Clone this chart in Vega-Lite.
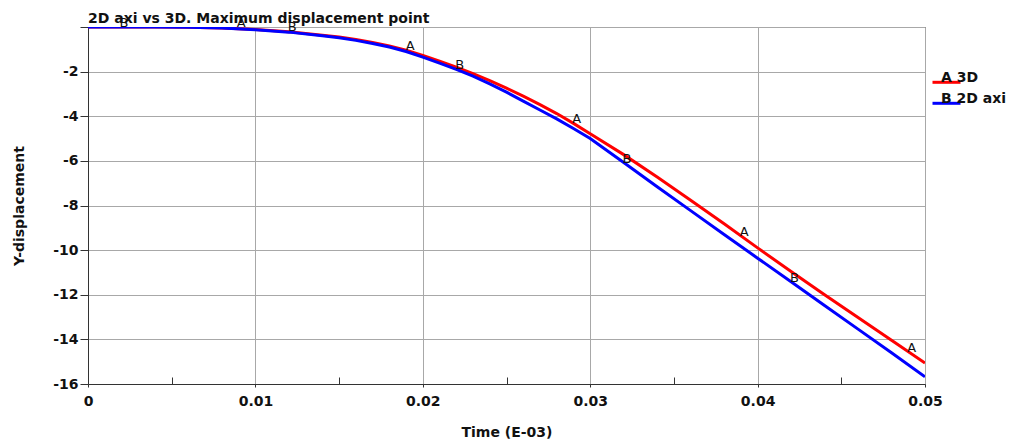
{
  "$schema": "https://vega.github.io/schema/vega-lite/v6.json",
  "width": 837,
  "height": 357,
  "autosize": {"type": "none"},
  "padding": {"left": 88, "top": 27, "right": 91, "bottom": 57},
  "background": "white",
  "config": {
    "view": {"stroke": "#222", "strokeWidth": 1},
    "font": "DejaVu Sans"
  },
  "title": {
    "text": "2D axi vs 3D. Maximum displacement point",
    "anchor": "start",
    "frame": "group",
    "font": "DejaVu Sans",
    "fontSize": 14,
    "fontWeight": "bold",
    "color": "#111",
    "baseline": "alphabetic",
    "offset": 5,
    "dy": 25
  },
  "datasets": {
    "curves": [
      {"t": 0.000, "v": 0, "series": "3D"},
      {"t": 0.004, "v": 0, "series": "3D"},
      {"t": 0.006, "v": -0.01, "series": "3D"},
      {"t": 0.008, "v": -0.04, "series": "3D"},
      {"t": 0.010, "v": -0.11, "series": "3D"},
      {"t": 0.012, "v": -0.21, "series": "3D"},
      {"t": 0.014, "v": -0.37, "series": "3D"},
      {"t": 0.015, "v": -0.45, "series": "3D"},
      {"t": 0.016, "v": -0.56, "series": "3D"},
      {"t": 0.017, "v": -0.69, "series": "3D"},
      {"t": 0.018, "v": -0.85, "series": "3D"},
      {"t": 0.019, "v": -1.04, "series": "3D"},
      {"t": 0.020, "v": -1.27, "series": "3D"},
      {"t": 0.021, "v": -1.53, "series": "3D"},
      {"t": 0.022, "v": -1.80, "series": "3D"},
      {"t": 0.023, "v": -2.09, "series": "3D"},
      {"t": 0.024, "v": -2.40, "series": "3D"},
      {"t": 0.025, "v": -2.74, "series": "3D"},
      {"t": 0.026, "v": -3.10, "series": "3D"},
      {"t": 0.027, "v": -3.48, "series": "3D"},
      {"t": 0.028, "v": -3.88, "series": "3D"},
      {"t": 0.029, "v": -4.32, "series": "3D"},
      {"t": 0.030, "v": -4.78, "series": "3D"},
      {"t": 0.032, "v": -5.72, "series": "3D"},
      {"t": 0.034, "v": -6.72, "series": "3D"},
      {"t": 0.036, "v": -7.76, "series": "3D"},
      {"t": 0.038, "v": -8.82, "series": "3D"},
      {"t": 0.040, "v": -9.90, "series": "3D"},
      {"t": 0.042, "v": -10.96, "series": "3D"},
      {"t": 0.044, "v": -12.00, "series": "3D"},
      {"t": 0.046, "v": -13.02, "series": "3D"},
      {"t": 0.048, "v": -14.04, "series": "3D"},
      {"t": 0.050, "v": -15.06, "series": "3D"},
      {"t": 0.000, "v": 0, "series": "2D axi"},
      {"t": 0.004, "v": 0, "series": "2D axi"},
      {"t": 0.006, "v": -0.01, "series": "2D axi"},
      {"t": 0.008, "v": -0.04, "series": "2D axi"},
      {"t": 0.010, "v": -0.12, "series": "2D axi"},
      {"t": 0.012, "v": -0.23, "series": "2D axi"},
      {"t": 0.014, "v": -0.39, "series": "2D axi"},
      {"t": 0.015, "v": -0.48, "series": "2D axi"},
      {"t": 0.016, "v": -0.60, "series": "2D axi"},
      {"t": 0.017, "v": -0.74, "series": "2D axi"},
      {"t": 0.018, "v": -0.90, "series": "2D axi"},
      {"t": 0.019, "v": -1.10, "series": "2D axi"},
      {"t": 0.020, "v": -1.35, "series": "2D axi"},
      {"t": 0.021, "v": -1.62, "series": "2D axi"},
      {"t": 0.022, "v": -1.90, "series": "2D axi"},
      {"t": 0.023, "v": -2.20, "series": "2D axi"},
      {"t": 0.024, "v": -2.55, "series": "2D axi"},
      {"t": 0.025, "v": -2.92, "series": "2D axi"},
      {"t": 0.026, "v": -3.32, "series": "2D axi"},
      {"t": 0.027, "v": -3.72, "series": "2D axi"},
      {"t": 0.028, "v": -4.12, "series": "2D axi"},
      {"t": 0.029, "v": -4.55, "series": "2D axi"},
      {"t": 0.030, "v": -5.00, "series": "2D axi"},
      {"t": 0.032, "v": -6.07, "series": "2D axi"},
      {"t": 0.034, "v": -7.16, "series": "2D axi"},
      {"t": 0.036, "v": -8.23, "series": "2D axi"},
      {"t": 0.038, "v": -9.30, "series": "2D axi"},
      {"t": 0.040, "v": -10.36, "series": "2D axi"},
      {"t": 0.042, "v": -11.42, "series": "2D axi"},
      {"t": 0.044, "v": -12.48, "series": "2D axi"},
      {"t": 0.046, "v": -13.54, "series": "2D axi"},
      {"t": 0.048, "v": -14.60, "series": "2D axi"},
      {"t": 0.050, "v": -15.68, "series": "2D axi"}
    ],
    "markers": [
      {"t": 0.00915, "v": -0.07, "label": "A"},
      {"t": 0.01925, "v": -1.10, "label": "A"},
      {"t": 0.0292, "v": -4.41, "label": "A"},
      {"t": 0.0392, "v": -9.46, "label": "A"},
      {"t": 0.0492, "v": -14.65, "label": "A"},
      {"t": 0.00215, "v": -0.1, "label": "B"},
      {"t": 0.0122, "v": -0.25, "label": "B"},
      {"t": 0.0222, "v": -1.96, "label": "B"},
      {"t": 0.0322, "v": -6.18, "label": "B"},
      {"t": 0.0422, "v": -11.53, "label": "B"}
    ]
  },
  "layer": [
    {
      "data": {"name": "curves"},
      "mark": {"type": "line", "strokeWidth": 3, "clip": true},
      "encoding": {
        "x": {
          "field": "t",
          "type": "quantitative",
          "scale": {"domain": [0, 0.05], "nice": false, "zero": false},
          "axis": {
            "values": [0, 0.005, 0.01, 0.015, 0.02, 0.025, 0.03, 0.035, 0.04, 0.045, 0.05],
            "format": "~g",
            "labelExpr": "round(datum.value*1000) % 10 == 0 ? datum.label : ''",
            "title": "Time (E-03)",
            "titleFont": "DejaVu Sans",
            "titleFontSize": 14,
            "titleFontWeight": "bold",
            "titleColor": "#111",
            "titlePadding": 17,
            "labelFont": "DejaVu Sans",
            "labelFontSize": 14,
            "labelFontWeight": "bold",
            "labelColor": "#111",
            "labelPadding": 7,
            "labelFlush": false,
            "labelOverlap": false,
            "domainColor": "#333",
            "tickColor": "#333",
            "tickSize": {"condition": {"test": "round(datum.value*1000) % 10 == 0", "value": 3}, "value": -7},
            "gridColor": "#a8a8a8",
            "gridOpacity": {"condition": {"test": "round(datum.value*1000) % 10 == 0", "value": 1}, "value": 0}
          }
        },
        "y": {
          "field": "v",
          "type": "quantitative",
          "scale": {"domain": [-16, 0], "nice": false, "zero": false},
          "axis": {
            "values": [-16, -15, -14, -13, -12, -11, -10, -9, -8, -7, -6, -5, -4, -3, -2, -1, 0],
            "labelExpr": "(datum.value % 2 == 0 && datum.value != 0) ? ('' + datum.value) : ''",
            "title": "Y-displacement",
            "titleFont": "DejaVu Sans",
            "titleFontSize": 14,
            "titleFontWeight": "bold",
            "titleColor": "#111",
            "titlePadding": 26,
            "labelFont": "DejaVu Sans",
            "labelFontSize": 14,
            "labelFontWeight": "bold",
            "labelColor": "#111",
            "labelPadding": 2,
            "labelFlush": false,
            "labelOverlap": false,
            "domainColor": "#333",
            "tickColor": "#333",
            "tickSize": {"condition": {"test": "datum.value % 2 == 0", "value": 8}, "value": -8},
            "gridColor": "#a8a8a8",
            "gridOpacity": {"condition": {"test": "datum.value % 2 == 0", "value": 1}, "value": 0}
          }
        },
        "color": {
          "field": "series",
          "type": "nominal",
          "scale": {"domain": ["3D", "2D axi"], "range": ["#ff0000", "#0000ff"]},
          "legend": {
            "title": null,
            "orient": "none",
            "legendX": 849,
            "legendY": 41,
            "labelExpr": "datum.label == '3D' ? 'A 3D' : 'B 2D axi'",
            "labelFont": "DejaVu Sans",
            "labelFontSize": 14,
            "labelFontWeight": "bold",
            "labelColor": "#111",
            "symbolType": "M-1.75,0.6L1.75,0.6",
            "symbolSize": 256,
            "symbolStrokeWidth": 3,
            "labelOffset": -15,
            "rowPadding": -3
          }
        }
      }
    },
    {
      "data": {"name": "markers"},
      "mark": {"type": "text", "font": "DejaVu Sans", "fontSize": 13, "color": "#111", "baseline": "alphabetic", "dy": -2},
      "encoding": {
        "x": {"field": "t", "type": "quantitative"},
        "y": {"field": "v", "type": "quantitative"},
        "text": {"field": "label"}
      }
    }
  ]
}
